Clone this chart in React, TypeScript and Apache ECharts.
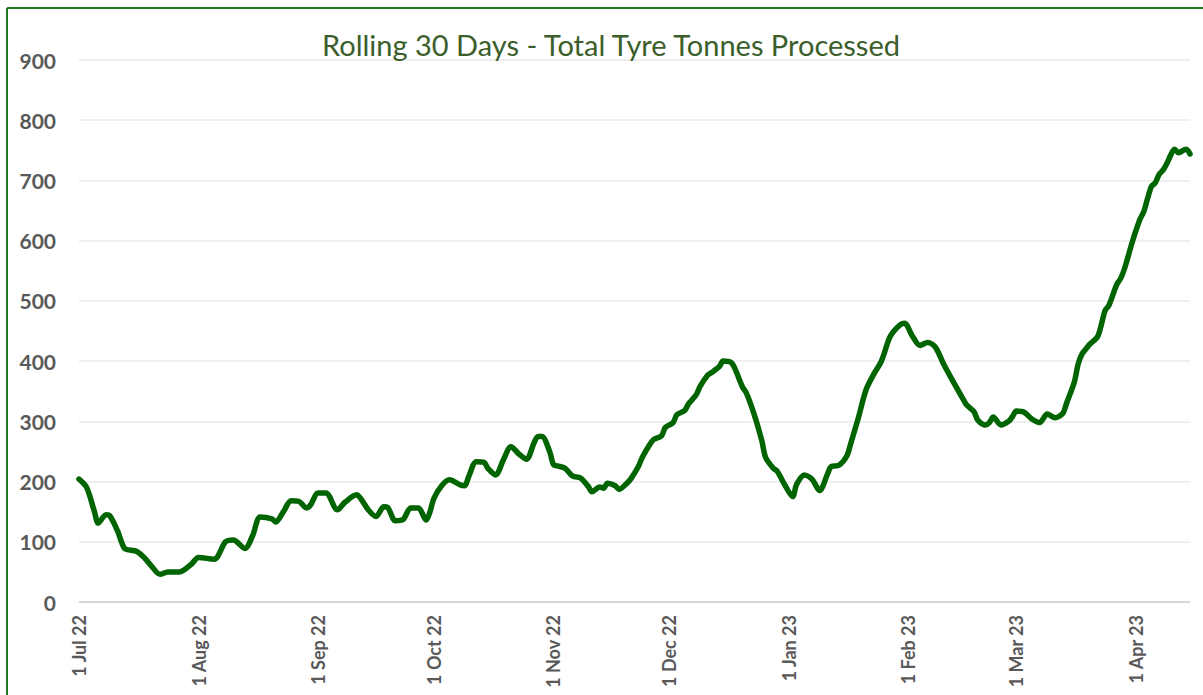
import React, { useEffect, useRef } from "react";
import * as echarts from "echarts";

const TITLE = "Rolling 30 Days - Total Tyre Tonnes Processed";

const dates: string[] = [
  "2022-07-01", "2022-07-03", "2022-07-05", "2022-07-06", "2022-07-08", "2022-07-09",
  "2022-07-11", "2022-07-12", "2022-07-13", "2022-07-16", "2022-07-18", "2022-07-20",
  "2022-07-22", "2022-07-24", "2022-07-27", "2022-07-30", "2022-08-01", "2022-08-05",
  "2022-08-08", "2022-08-10", "2022-08-13", "2022-08-15", "2022-08-17", "2022-08-20",
  "2022-08-21", "2022-08-23", "2022-08-25", "2022-08-27", "2022-08-29", "2022-08-30",
  "2022-09-01", "2022-09-03", "2022-09-06", "2022-09-08", "2022-09-11", "2022-09-12",
  "2022-09-14", "2022-09-16", "2022-09-18", "2022-09-19", "2022-09-21", "2022-09-23",
  "2022-09-25", "2022-09-27", "2022-09-29", "2022-09-30", "2022-10-01", "2022-10-03",
  "2022-10-05", "2022-10-08", "2022-10-09", "2022-10-10", "2022-10-12", "2022-10-14",
  "2022-10-15", "2022-10-17", "2022-10-19", "2022-10-21", "2022-10-23", "2022-10-25",
  "2022-10-27", "2022-10-28", "2022-10-29", "2022-10-31", "2022-11-01", "2022-11-02",
  "2022-11-04", "2022-11-06", "2022-11-08", "2022-11-10", "2022-11-11", "2022-11-13",
  "2022-11-14", "2022-11-15", "2022-11-17", "2022-11-18", "2022-11-20", "2022-11-21",
  "2022-11-23", "2022-11-24", "2022-11-26", "2022-11-27", "2022-11-29", "2022-11-30",
  "2022-12-02", "2022-12-03", "2022-12-05", "2022-12-06", "2022-12-08", "2022-12-09",
  "2022-12-11", "2022-12-12", "2022-12-14", "2022-12-15", "2022-12-17", "2022-12-18",
  "2022-12-20", "2022-12-21", "2022-12-23", "2022-12-25", "2022-12-26", "2022-12-28",
  "2022-12-29", "2022-12-31", "2023-01-02", "2023-01-03", "2023-01-05", "2023-01-07",
  "2023-01-09", "2023-01-11", "2023-01-12", "2023-01-14", "2023-01-16", "2023-01-17",
  "2023-01-19", "2023-01-21", "2023-01-23", "2023-01-25", "2023-01-27", "2023-01-28",
  "2023-01-30", "2023-01-31", "2023-02-02", "2023-02-04", "2023-02-06", "2023-02-08",
  "2023-02-10", "2023-02-12", "2023-02-15", "2023-02-16", "2023-02-18", "2023-02-19",
  "2023-02-21", "2023-02-22", "2023-02-23", "2023-02-25", "2023-02-27", "2023-02-28",
  "2023-03-01", "2023-03-03", "2023-03-05", "2023-03-07", "2023-03-09", "2023-03-11",
  "2023-03-13", "2023-03-14", "2023-03-16", "2023-03-17", "2023-03-18", "2023-03-19",
  "2023-03-20", "2023-03-22", "2023-03-23", "2023-03-24", "2023-03-25", "2023-03-27",
  "2023-03-28", "2023-03-29", "2023-03-31", "2023-04-02", "2023-04-03", "2023-04-04",
  "2023-04-05", "2023-04-06", "2023-04-07", "2023-04-08", "2023-04-09", "2023-04-10",
  "2023-04-11", "2023-04-12", "2023-04-14", "2023-04-15",
];

const tonnes: number[] = [
  204, 190, 150, 131, 145, 143,
  118, 100, 88, 84, 73, 58,
  46, 50, 50, 62, 74, 71,
  100, 103, 89, 110, 141, 138,
  133, 150, 168, 167, 156, 161,
  181, 181, 153, 166, 178, 172,
  153, 142, 158, 157, 135, 137,
  156, 156, 136, 150, 172, 193,
  203, 194, 193, 208, 233, 232,
  222, 211, 236, 258, 246, 237,
  265, 275, 275, 250, 228, 226,
  222, 209, 206, 192, 183, 191,
  189, 197, 193, 187, 197, 204,
  225, 240, 262, 270, 276, 290,
  298, 311, 318, 329, 344, 358,
  377, 381, 391, 400, 398, 388,
  357, 347, 312, 268, 240, 222,
  217, 194, 175, 195, 211, 204,
  185, 212, 225, 227, 242, 262,
  305, 352, 378, 400, 437, 448,
  461, 463, 442, 426, 431, 423,
  397, 373, 339, 328, 316, 302,
  294, 298, 307, 294, 300, 308,
  317, 315, 304, 298, 312, 306,
  313, 330, 365, 395, 412, 420,
  428, 440, 460, 484, 493, 527,
  537, 553, 597, 635, 648, 670,
  690, 696, 710, 717, 728, 742,
  752, 746, 752, 744,
];

const monthStarts: string[] = [
  "2022-07-01", "2022-08-01", "2022-09-01", "2022-10-01", "2022-11-01",
  "2022-12-01", "2023-01-01", "2023-02-01", "2023-03-01", "2023-04-01",
];
const monthLabels: string[] = [
  "1 Jul 22", "1 Aug 22", "1 Sep 22", "1 Oct 22", "1 Nov 22",
  "1 Dec 22", "1 Jan 23", "1 Feb 23", "1 Mar 23", "1 Apr 23",
];

const yTicks: number[] = [0, 100, 200, 300, 400, 500, 600, 700, 800, 900];

const START = Date.UTC(2022, 6, 1);
function dayIndex(s: string): number {
  const [y, m, d] = s.split("-").map(Number);
  return Math.round((Date.UTC(y, m - 1, d) - START) / 86400000);
}

export default function App() {
  const ref = useRef<HTMLDivElement>(null);
  useEffect(() => {
    if (!ref.current) return;
    const chart = echarts.init(ref.current, null, { renderer: "svg" });
    const monthDays = monthStarts.map(dayIndex);
    const points = dates.map((d, i) => [dayIndex(d), tonnes[i]]);
    const lastDay = dayIndex(dates[dates.length - 1]);
    chart.setOption({
      animation: false,
      backgroundColor: "#ffffff",
      title: {
        text: TITLE,
        left: 606,
        top: 25,
        textAlign: "center",
        textStyle: {
          fontFamily: "Lato",
          fontSize: 29,
          fontWeight: "normal",
          color: "#3b5e2b",
        },
      },
      graphic: [
        { type: "line", shape: { x1: 7, y1: 8, x2: 1210, y2: 8 }, style: { stroke: "#1d7a1d", lineWidth: 2 } },
        { type: "line", shape: { x1: 7, y1: 8, x2: 7, y2: 700 }, style: { stroke: "#1d7a1d", lineWidth: 2 } },
      ],
      grid: { left: 79, right: 13, top: 60, bottom: 93, containLabel: false, outerBoundsMode: "none" },
      xAxis: {
        type: "value",
        min: 0,
        max: lastDay,
        splitLine: { show: false },
        axisTick: { show: false },
        axisLine: { show: false },
        axisLabel: {
          customValues: monthDays,
          rotate: 90,
          margin: 13,
          fontFamily: "Lato",
          fontWeight: "bold",
          fontSize: 18,
          color: "#595959",
          formatter: (v: number) => {
            const i = monthDays.indexOf(Math.round(v));
            return i >= 0 ? monthLabels[i] : "";
          },
        },
      },
      yAxis: {
        type: "value",
        min: yTicks[0],
        max: yTicks[yTicks.length - 1],
        interval: 100,
        axisLine: { show: false },
        axisTick: { show: false },
        axisLabel: {
          margin: 23,
          fontFamily: "Lato",
          fontWeight: "bold",
          fontSize: 21,
          color: "#595959",
        },
        splitLine: {
          lineStyle: {
            color: ["#d6d6d6", "#efefef", "#efefef", "#efefef", "#efefef", "#efefef", "#efefef", "#efefef", "#efefef", "#efefef"],
            width: 2,
          },
        },
      },
      series: [
        {
          type: "line",
          data: points,
          smooth: 0.3,
          showSymbol: false,
          lineStyle: { color: "#006400", width: 5.5, cap: "round", join: "round" },
          itemStyle: { color: "#006400" },
        },
      ],
    });
    return () => chart.dispose();
  }, []);
  return (
    <div
      ref={ref}
      style={{ position: "fixed", left: 0, top: 0, width: 1203, height: 695 }}
    />
  );
}
